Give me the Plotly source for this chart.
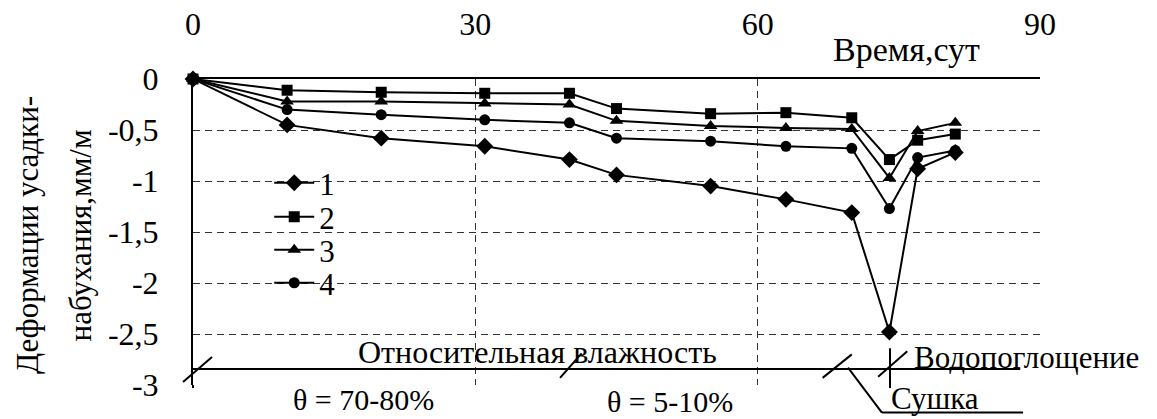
import plotly.graph_objects as go

# Time, days
days = [0, 10, 20, 31, 40, 45, 55, 63, 70, 74, 77, 81]

# Shrinkage-swelling strain, mm/m
s1 = [0, -0.45, -0.58, -0.66, -0.79, -0.94, -1.05, -1.18, -1.31, -2.48, -0.88, -0.72]
s2 = [0, -0.11, -0.13, -0.14, -0.14, -0.29, -0.34, -0.33, -0.38, -0.79, -0.60, -0.54]
s3 = [0, -0.22, -0.22, -0.24, -0.25, -0.41, -0.46, -0.48, -0.49, -0.97, -0.51, -0.43]
s4 = [0, -0.30, -0.35, -0.40, -0.43, -0.58, -0.61, -0.66, -0.68, -1.27, -0.77, -0.70]

series_names = ["1", "2", "3", "4"]
x_ticks = [0, 30, 60, 90]
y_ticks = [0, -0.5, -1, -1.5, -2, -2.5, -3]
y_ticktext = ["0", "-0,5", "-1", "-1,5", "-2", "-2,5", "-3"]

FONT = "Liberation Serif"
X_MAX = 90
Y_MIN, Y_MAX = -3, 0

# one small legend box per series so the rows can sit close together
legend_ids = ["legend", "legend2", "legend3", "legend4"]
legend_rows = [0.660, 0.549, 0.441, 0.333]

fig = go.Figure()
styles = [
    (s1, "diamond", 13),
    (s2, "square", 11),
    (s3, "triangle-up", 12),
    (s4, "circle", 11),
]
for name, lid, (vals, sym, size) in zip(series_names, legend_ids, styles):
    fig.add_trace(go.Scatter(
        x=days, y=vals, name=name, mode="lines+markers",
        line=dict(color="black", width=2),
        marker=dict(symbol=sym, size=size, color="black"),
        cliponaxis=False, showlegend=True, legend=lid,
    ))


def dx(d):
    return d / X_MAX


def dy(v):
    return (v - Y_MIN) / (Y_MAX - Y_MIN)


def seg(x0, y0, x1, y1, w=2):
    return dict(type="line", xref="x domain", yref="y domain",
                x0=dx(x0), y0=dy(y0), x1=dx(x1), y1=dy(y1),
                line=dict(color="black", width=w))


shapes = [
    # regime line along the bottom
    seg(0, -2.843, 87.9, -2.843),
    # break marks
    seg(-1.06, -2.97, 2.02, -2.725),
    seg(39.0, -2.93, 41.3, -2.69),
    seg(66.9, -2.93, 70.0, -2.70),
    seg(72.8, -2.92, 75.9, -2.67),
    seg(74.06, -2.64, 74.06, -3.03),
    # drying leader
    seg(69.6, -2.83, 73.2, -3.27),
    seg(73.2, -3.27, 88.2, -3.27),
    # axis stub below the last gridline
    seg(0, -3.0, 0, -3.03),
]

notes = [
    (36.6, -2.68, "Относительная влажность", "center", 32),
    (18.1, -3.145, "θ = 70-80%", "center", 30),
    (50.7, -3.16, "θ = 5-10%", "center", 30),
    (76.4, -2.73, "Водопоглощение", "left", 31),
    (74.0, -3.13, "Сушка", "left", 31),
    (75.8, 0.29, "Время,сут", "center", 34),
]
annotations = [
    dict(xref="x domain", yref="y domain", x=dx(x), y=dy(y), text=t,
         xanchor=anc, yanchor="middle", showarrow=False,
         font=dict(family=FONT, size=fs, color="black"))
    for x, y, t, anc, fs in notes
]
title_font = dict(family=FONT, size=31, color="black")
annotations += [
    dict(xref="paper", yref="paper", x=-0.196, y=0.49, text="Деформации усадки-",
         textangle=-90, showarrow=False, xanchor="center", yanchor="middle", font=title_font),
    dict(xref="paper", yref="paper", x=-0.133, y=0.49, text="набухания,мм/м",
         textangle=-90, showarrow=False, xanchor="center", yanchor="middle", font=title_font),
]

grid = dict(showgrid=True, gridcolor="#333333", gridwidth=1, griddash="7px,5px", zeroline=False)

legends = {}
for lid, row in zip(legend_ids, legend_rows):
    legends[lid] = dict(x=0.09, y=row, xanchor="left", yanchor="middle",
                        bgcolor="rgba(0,0,0,0)", font=dict(family=FONT, size=31),
                        itemwidth=40, borderwidth=0)

fig.update_layout(
    width=1157, height=419,
    margin=dict(l=193, r=117, t=79, b=34, autoexpand=False),
    paper_bgcolor="white", plot_bgcolor="white",
    font=dict(family=FONT, size=30, color="black"),
    showlegend=True,
    xaxis=dict(range=[0, X_MAX], side="top", tickvals=x_ticks, automargin=False,
               ticks="", ticklabelstandoff=29, showline=True, linecolor="black", linewidth=2,
               tickfont=dict(family=FONT, size=32), **grid),
    yaxis=dict(range=[Y_MIN, Y_MAX], tickvals=y_ticks, ticktext=y_ticktext, automargin=False,
               ticks="", ticklabelstandoff=26, showline=True, linecolor="black", linewidth=2,
               tickfont=dict(family=FONT, size=32), **grid),
    shapes=shapes,
    annotations=annotations,
    **legends,
)

fig.write_html("out.html")
